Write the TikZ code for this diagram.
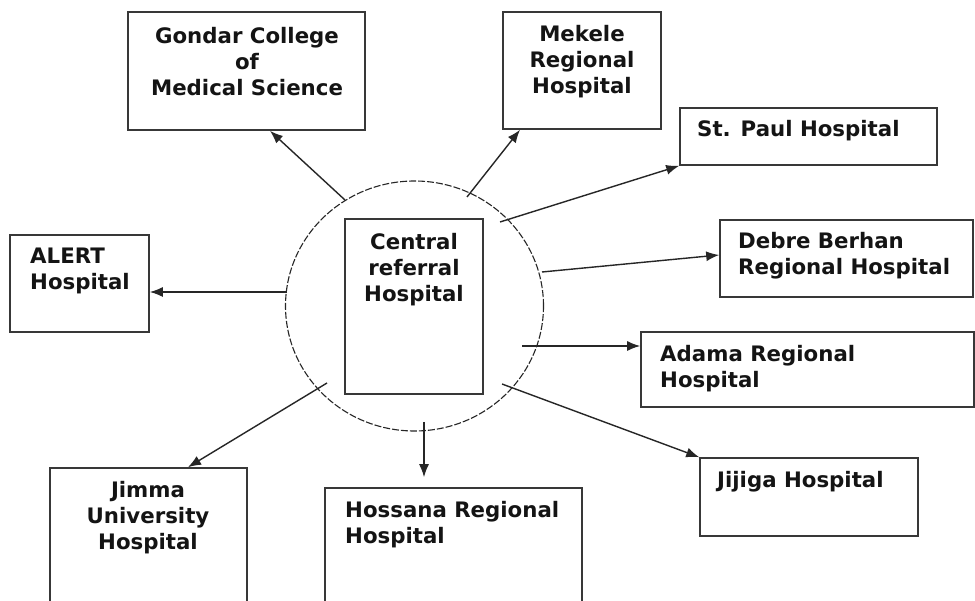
\documentclass[tikz,border=0pt]{standalone}
\usepackage{fontspec}
\setmainfont{DejaVu Sans}
\usetikzlibrary{arrows.meta,shapes.geometric}
\begin{document}
\begin{tikzpicture}[x=1pt,y=-1pt,
  box/.style={draw=black!78,line width=1.6pt,inner sep=0pt},
  lbl/.style={font=\fontsize{21.3}{26}\selectfont\bfseries,inner sep=0pt,text=black!92},
  link/.style={-{Latex[length=13pt,width=10pt]},line width=1.4pt,draw=black!85}]
\useasboundingbox (0,0) rectangle (975,601);
\clip (0,0) rectangle (975,601);
\fill[white] (0,0) rectangle (975,601);

% central hub
\node[draw=black!85,line width=1.1pt,dash pattern=on 7pt off 2pt,ellipse,
      minimum width=258pt,minimum height=250pt,inner sep=0pt] (hub) at (414.5,306) {};
\node[box,minimum width=138pt,minimum height=175pt] (central) at (414,306.5) {};
\node[lbl,align=center] (centralt) at (414,270) {Central\\referral\\Hospital};

% boxes
\node[box,minimum width=237pt,minimum height=118pt] (gondar) at (246.5,71) {};
\node[lbl,align=center] (gondart) at (247,62) {Gondar College\\of\\Medical Science};

\node[box,minimum width=158pt,minimum height=117pt] (mekele) at (582,70.5) {};
\node[lbl,align=center] (mekelet) at (582,62) {Mekele\\Regional\\Hospital};

\node[box,minimum width=257pt,minimum height=57pt] (paul) at (808.5,136.5) {};
\node[lbl,anchor=west] (pault) at (697,131) {St. Paul Hospital};

\node[box,minimum width=253pt,minimum height=77pt] (debre) at (846.5,258.5) {};
\node[lbl,align=left,anchor=west] (debret) at (738,256) {Debre Berhan\\Regional Hospital};

\node[box,minimum width=139pt,minimum height=97pt] (alert) at (79.5,283.5) {};
\node[lbl,align=left,anchor=west] (alertt) at (30,270.5) {ALERT\\Hospital};

\node[box,minimum width=333pt,minimum height=75pt] (adama) at (807.5,369.5) {};
\node[lbl,align=left,anchor=west] (adamat) at (660,368.5) {Adama Regional\\Hospital};

\node[box,minimum width=218pt,minimum height=78pt] (jijiga) at (809,497) {};
\node[lbl,anchor=west] (jijigat) at (717,482) {Jijiga Hospital};

\node[box,minimum width=197pt,minimum height=160pt] (jimma) at (148.5,548) {};
\node[lbl,align=center] (jimmat) at (148,518) {Jimma\\University\\Hospital};

\node[box,minimum width=257pt,minimum height=140pt] (hossana) at (453.5,558) {};
\node[lbl,align=left,anchor=west] (hossanat) at (345,524.5) {Hossana Regional\\Hospital};

% connector start points on the hub
\coordinate (s1) at (345,200);
\coordinate (s2) at (467,197);
\coordinate (s3) at (500,222);
\coordinate (s4) at (542,272);
\coordinate (s5) at (287,292);
\coordinate (s6) at (522,346);
\coordinate (s7) at (502,384);
\coordinate (s8) at (327,383);
\coordinate (s9) at (424,422);

\draw[link] (s1) -- ([xshift=23.5pt]gondar.south);
\draw[link] (s2) -- ([xshift=-62pt]mekele.south);
\draw[link] (s3) -- (paul.south west);
\draw[link] (s4) -- ([yshift=3.5pt]debre.west);
\draw[link] (s5) -- ([yshift=-8.5pt]alert.east);
\draw[link] (s6) -- ([yshift=23.5pt]adama.west);
\draw[link] (s7) -- (jijiga.north west);
\draw[link] (s8) -- ([xshift=39.5pt]jimma.north);
\draw[link] (s9) -- ([xshift=-29.5pt,yshift=10pt]hossana.north);
\end{tikzpicture}
\end{document}
